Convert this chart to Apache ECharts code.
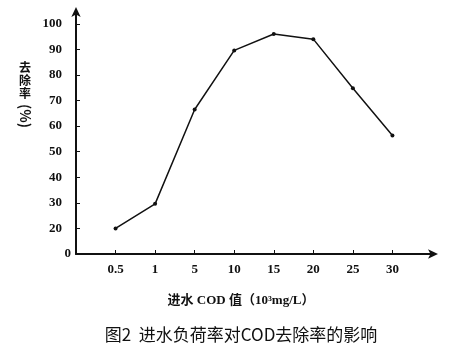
<!DOCTYPE html>
<html><head><meta charset="utf-8">
<script src="https://cdn.jsdelivr.net/npm/echarts@6/dist/echarts.min.js"></script>
<style>html,body{margin:0;padding:0;background:#fff}#c{width:464px;height:352px}</style>
</head><body><div id="c"></div>
<script>
const categories = ['', '0.5', '1', '5', '10', '15', '20', '25', '30', ''];
const removalRate = [null, 20, 29.6, 66.5, 89.6, 96, 94, 74.8, 56.3, null];
const yTickValues = [20, 30, 40, 50, 60, 70, 80, 90, 100];
const originLabel = '0';
const yName = '去除率';
const yUnit = '(%)';
const xName = '进水 COD 值（10³mg/L）';
const caption = '图2  进水负荷率对COD去除率的影响';

const chart = echarts.init(document.getElementById('c'));
const latin = 'Liberation Serif, Noto Sans CJK SC';
chart.setOption({
  animation: false,
  backgroundColor: '#fff',
  grid: { left: 76, right: 32, top: 11, bottom: 98 },
  title: [
    { text: xName, left: 236, top: 289, textAlign: 'center',
      textStyle: { fontFamily: latin, fontSize: 13, fontWeight: 'bold', color: '#111' } },
    { text: caption, left: 236, top: 321, textAlign: 'center',
      textStyle: { fontFamily: 'Noto Sans CJK SC', fontSize: 17, fontWeight: 'normal', color: '#111' } }
  ],
  graphic: [
    { type: 'text', left: 19, top: 61,
      style: { text: yName.split('').join('\n'), font: 'bold 12px "Noto Sans CJK SC"', fill: '#111', lineHeight: 13 } },
    { type: 'text', x: 18, y: 104, rotation: -Math.PI / 2, originX: 0, originY: 0,
      style: { text: yUnit, font: 'bold 14px "Noto Sans CJK SC"', fill: '#111', x: 0, y: -14 } }
  ],
  xAxis: {
    type: 'category', data: categories, boundaryGap: false,
    axisLine: { symbol: ['none', 'arrow'], symbolSize: [7, 10], symbolOffset: [0, 6], lineStyle: { color: '#111', width: 2 } },
    axisTick: { inside: true, length: 4, lineStyle: { color: '#111', width: 1 },
      interval: (i, v) => v !== '' },
    axisLabel: { fontFamily: latin, fontWeight: 'bold', fontSize: 13, color: '#111', margin: 9,
      interval: (i, v) => v !== '' },
    splitLine: { show: false }
  },
  yAxis: [{
    type: 'value', min: 10, max: 105,
    axisLine: { show: true, symbol: ['none', 'arrow'], symbolSize: [7, 10], symbolOffset: [0, 4], lineStyle: { color: '#111', width: 2 } },
    axisTick: { show: true, inside: true, length: 4, customValues: yTickValues, lineStyle: { color: '#111' } },
    axisLabel: { customValues: yTickValues, fontFamily: latin, fontWeight: 'bold', fontSize: 13, color: '#111', margin: 14 },
    splitLine: { show: false }
  }, {
    type: 'value', min: 10, max: 105, position: 'left',
    axisLine: { show: false }, axisTick: { show: false }, splitLine: { show: false },
    axisLabel: { customValues: [10], formatter: () => originLabel, fontFamily: latin, fontWeight: 'bold', fontSize: 13, color: '#111', margin: 5, padding: [8, 0, 0, 0] }
  }],
  series: [{
    type: 'line', data: removalRate, yAxisIndex: 0,
    symbol: 'circle', symbolSize: 4, showSymbol: true,
    lineStyle: { color: '#111', width: 1.5 }, itemStyle: { color: '#111' }
  }]
});
</script></body></html>
